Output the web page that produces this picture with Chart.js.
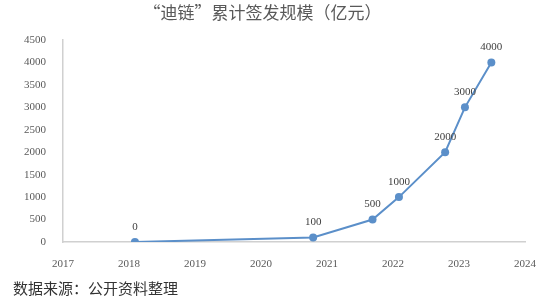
<!DOCTYPE html>
<html>
<head>
<meta charset="utf-8">
<script src="https://cdn.jsdelivr.net/npm/chart.js@4/dist/chart.umd.min.js"></script>
<style>
  body { margin: 0; background: #fff; }
  #wrap { position: relative; width: 554px; height: 302px; }
  #note {
    position: absolute; left: 13px; top: 277px; line-height: 20px;
    font: 15px "Noto Sans CJK SC", sans-serif; color: #333;
  }
</style>
</head>
<body>
<div id="wrap">
  <canvas id="myChart" width="554" height="302"></canvas>
  <div id="note">数据来源：公开资料整理</div>
</div>
<script>
// 年份（小数表示月份位置）
const years = [2018.09, 2020.79, 2021.69, 2022.09, 2022.79, 2023.09, 2023.49];
// 累计签发规模（亿元）
const amounts = [0, 100, 500, 1000, 2000, 3000, 4000];
// 坐标轴刻度
const xTicks = [2017, 2018, 2019, 2020, 2021, 2022, 2023, 2024];
const yTicks = [0, 500, 1000, 1500, 2000, 2500, 3000, 3500, 4000, 4500];

const points = years.map((y, i) => ({ x: y, y: amounts[i] }));

// 数据标签
const valueLabels = {
    id: 'valueLabels',
    afterDatasetsDraw(chart) {
        const ctx = chart.ctx;
        const meta = chart.getDatasetMeta(0);
        ctx.save();
        ctx.font = '11px "Liberation Serif", serif';
        ctx.fillStyle = '#404040';
        ctx.textAlign = 'center';
        ctx.textBaseline = 'middle';
        meta.data.forEach((pt, i) => {
            ctx.fillText(String(amounts[i]), pt.x, pt.y - 15);
        });
        ctx.restore();
    }
};

const tickFont = { family: '"Liberation Serif", serif', size: 11 };

const chart = new Chart(document.getElementById('myChart'), {
    type: 'line',
    data: {
        datasets: [{
            data: points,
            borderColor: '#5b8fc9',
            backgroundColor: '#5b8fc9',
            borderWidth: 2,
            pointRadius: 4,
            pointBorderWidth: 0,
            tension: 0
        }]
    },
    options: {
        responsive: false,
        animation: false,
        layout: { padding: { left: 0, right: 29, top: 0, bottom: 0 } },
        plugins: {
            legend: { display: false },
            tooltip: { enabled: false },
            title: {
                display: true,
                text: '“迪链”累计签发规模（亿元）',
                color: '#595959',
                font: { family: '"Noto Sans CJK SC", sans-serif', size: 17, weight: 'normal' },
                padding: { top: 2, bottom: 17.6 }
            }
        },
        scales: {
            x: {
                type: 'linear',
                min: xTicks[0],
                max: xTicks[xTicks.length - 1],
                grid: { display: false },
                border: { display: true, color: '#d0d0d0', width: 1.5 },
                afterBuildTicks: s => { s.ticks = xTicks.map(v => ({ value: v })); },
                afterFit: s => { s.height = 60; },
                ticks: {
                    color: '#595959', font: tickFont, padding: 8,
                    maxRotation: 0, autoSkip: false,
                    callback: v => String(v)
                }
            },
            y: {
                min: yTicks[0],
                max: yTicks[yTicks.length - 1],
                grid: { display: false },
                border: { display: true, color: '#d0d0d0', width: 1.5 },
                afterBuildTicks: s => { s.ticks = yTicks.map(v => ({ value: v })); },
                afterFit: s => { s.width = 63; },
                ticks: { color: '#595959', font: tickFont, padding: 9, callback: v => String(v) }
            }
        }
    },
    plugins: [valueLabels]
});
</script>
</body>
</html>
